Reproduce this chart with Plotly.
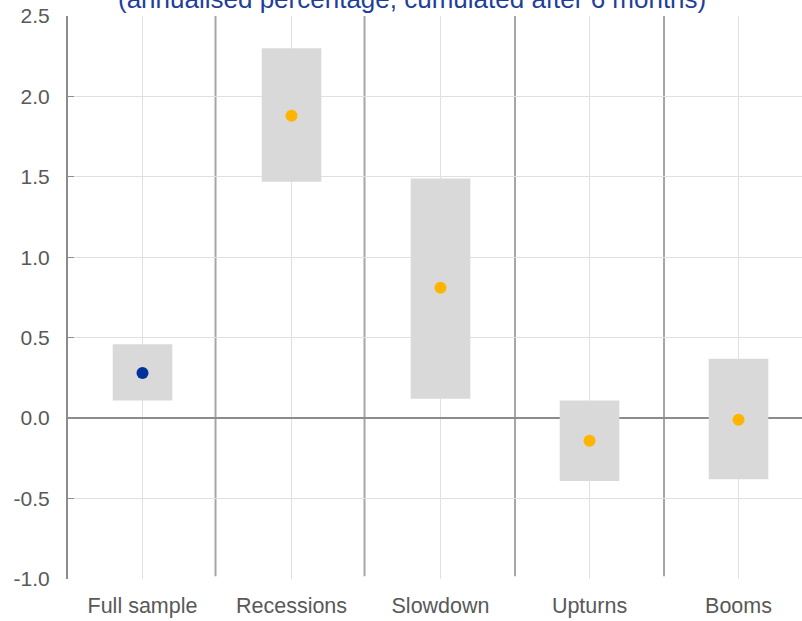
import plotly.graph_objects as go

categories = ["Full sample", "Recessions", "Slowdown", "Upturns", "Booms"]
range_low = [0.11, 1.47, 0.12, -0.39, -0.38]
range_high = [0.46, 2.30, 1.49, 0.11, 0.37]
point_values = [0.28, 1.88, 0.81, -0.14, -0.01]
point_colors = ["#003299", "#FFB400", "#FFB400", "#FFB400", "#FFB400"]
separators = [0.49, 1.49, 2.5, 3.5]
y_tick_values = [-1.0, -0.5, 0.0, 0.5, 1.0, 1.5, 2.0, 2.5]
y_tick_labels = ["-1.0", "-0.5", "0.0", "0.5", "1.0", "1.5", "2.0", "2.5"]
title_text = "(annualised percentage, cumulated after 6 months)"

FONT = "Liberation Sans, Arial, sans-serif"

fig = go.Figure()
fig.add_trace(go.Bar(
    x=categories,
    y=[h - l for h, l in zip(range_high, range_low)],
    base=range_low,
    width=0.4,
    marker=dict(color="#d9d9d9", line=dict(width=0)),
    hoverinfo="skip",
    showlegend=False,
))
fig.add_trace(go.Scatter(
    x=categories,
    y=point_values,
    mode="markers",
    marker=dict(color=point_colors, size=12, line=dict(width=0)),
    showlegend=False,
))

for s in separators:
    fig.add_shape(type="line", xref="x", yref="paper", x0=s, x1=s, y0=0.005, y1=1.0,
                  line=dict(color="#a6a6a6", width=2), layer="below")

fig.add_annotation(text=title_text, xref="paper", yref="paper", x=(412 - 68) / 734, y=1.0,
                   yshift=17, showarrow=False, xanchor="center", yanchor="middle",
                   font=dict(family=FONT, size=26, color="#1f3f99"))

fig.update_layout(
    width=802, height=621,
    margin=dict(l=68, r=0, t=16, b=42, autoexpand=False),
    paper_bgcolor="white", plot_bgcolor="white",
    font=dict(family=FONT, size=21, color="#595959"),
    xaxis=dict(
        type="category",
        range=[-0.5, 4.426],
        showgrid=True, gridcolor="#e0e0e0", gridwidth=1,
        showline=False, ticks="", tickfont=dict(size=21.5, color="#595959"),
        ticklabelstandoff=11,
        automargin=False,
    ),
    yaxis=dict(
        range=[-1.0, 2.5],
        tickmode="array", tickvals=y_tick_values, ticktext=y_tick_labels,
        showgrid=True, gridcolor="#e0e0e0", gridwidth=1,
        zeroline=True, zerolinecolor="#8c8c8c", zerolinewidth=2,
        showline=True, linecolor="#8c8c8c", linewidth=2,
        ticks="inside", ticklen=6, tickcolor="#8c8c8c", tickwidth=1,
        tickfont=dict(size=21, color="#595959"),
        ticklabelstandoff=12,
        automargin=False,
    ),
)

fig.write_html("out.html", config={"displayModeBar": False},
               post_script="document.body.style.margin='0';document.body.style.overflow='hidden';")
